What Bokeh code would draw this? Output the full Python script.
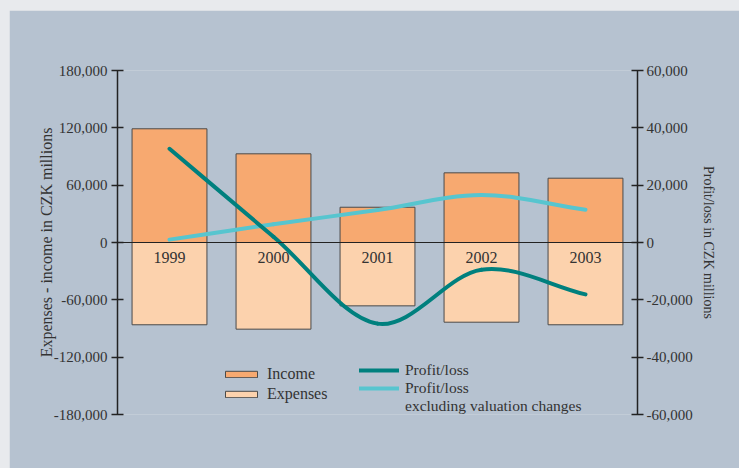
from bokeh.plotting import figure
from bokeh.models import (Range1d, LinearAxis, FixedTicker, NumeralTickFormatter,
                          Span, Legend, LegendItem, ColumnDataSource)
from bokeh.core.properties import value
from bokeh.embed import file_html
from bokeh.resources import INLINE

# ---- data ----
years = ["1999", "2000", "2001", "2002", "2003"]
income = [119000, 92800, 36900, 72900, 67300]
expenses = [-86100, -90700, -66300, -83400, -86100]
profit_loss = [32700, 2000, -28300, -9500, -18100]
profit_loss_excl = [1000, 6400, 11300, 16600, 11400]
left_ticks = [-180000, -120000, -60000, 0, 60000, 120000, 180000]
right_ticks = [-60000, -40000, -20000, 0, 20000, 40000, 60000]

FONT = "Liberation Serif"
TXT = "#333333"
PANEL = "#b6c2d0"

xs = list(range(len(years)))

p = figure(width=730, height=458, output_backend="svg", toolbar_location=None,
           x_range=Range1d(-0.5, len(years) - 0.5),
           y_range=Range1d(left_ticks[0], left_ticks[-1]),
           x_axis_location=None, y_axis_location="left",
           min_border_left=108, min_border_right=102,
           min_border_top=60, min_border_bottom=54)
p.extra_y_ranges = {"pl": Range1d(right_ticks[0], right_ticks[-1])}
p.background_fill_color = PANEL
p.border_fill_color = PANEL
p.outline_line_color = None
p.grid.visible = False


def style_axis(ax, ticks, standoff, label_standoff):
    ax.ticker = FixedTicker(ticks=ticks)
    ax.formatter = NumeralTickFormatter(format="0,0")
    ax.minor_tick_line_color = None
    ax.major_tick_in = 6
    ax.major_tick_out = 6
    ax.axis_line_width = 1.5
    ax.axis_line_color = "#222222"
    ax.major_tick_line_color = "#222222"
    ax.major_tick_line_width = 1.5
    ax.major_label_text_font = FONT
    ax.major_label_text_font_size = "15px"
    ax.major_label_text_color = TXT
    ax.major_label_standoff = standoff
    ax.axis_label_text_font = FONT
    ax.axis_label_text_font_size = "16px"
    ax.axis_label_text_font_style = "normal"
    ax.axis_label_text_color = TXT
    ax.axis_label_standoff = label_standoff


yl = p.yaxis[0]
yl.axis_label = "Expenses - income in CZK millions"
style_axis(yl, left_ticks, 4, -4)

yr = LinearAxis(y_range_name="pl")
style_axis(yr, right_ticks, 3, 0)
p.add_layout(yr, "right")

# title of the right axis (an axis that only carries the label)
yr_title = LinearAxis(y_range_name="pl", axis_label="Profit/loss in CZK millions",
                      ticker=FixedTicker(ticks=[]),
                      axis_line_color=None, major_tick_line_color=None,
                      minor_tick_line_color=None, major_tick_in=0, major_tick_out=0,
                      major_label_standoff=0, axis_label_standoff=5,
                      axis_label_text_font=FONT, axis_label_text_font_size="14px",
                      axis_label_text_font_style="normal", axis_label_text_color=TXT)
p.add_layout(yr_title, "right")

# bars
r_inc = p.vbar(x=xs, top=income, bottom=0, width=0.72,
               fill_color="#f7a970", line_color="#4a4a4a", line_width=1)
r_exp = p.vbar(x=xs, top=0, bottom=expenses, width=0.72,
               fill_color="#fcd2ad", line_color="#4a4a4a", line_width=1)

p.add_layout(Span(location=0, dimension="width", line_color="#222222", line_width=1))

# year labels just below the zero line
p.text(x=xs, y=[0] * len(years), text=years, text_align="center",
       text_baseline="top", y_offset=9, text_font=value(FONT),
       text_font_size="16px", text_color=TXT)


def smooth(ys):
    """Cardinal (Catmull-Rom) spline through the data points as Bezier segments."""
    n = len(ys)
    t = []
    for i in range(n):
        if i == 0:
            t.append(ys[1] - ys[0])
        elif i == n - 1:
            t.append(ys[-1] - ys[-2])
        else:
            t.append((ys[i + 1] - ys[i - 1]) / 2)
    return dict(
        x0=xs[:-1], y0=ys[:-1], x1=xs[1:], y1=ys[1:],
        cx0=[x + 1 / 3 for x in xs[:-1]], cy0=[ys[i] + t[i] / 3 for i in range(n - 1)],
        cx1=[x - 1 / 3 for x in xs[1:]], cy1=[ys[i + 1] - t[i + 1] / 3 for i in range(n - 1)],
    )


bz = dict(x0="x0", y0="y0", x1="x1", y1="y1", cx0="cx0", cy0="cy0", cx1="cx1", cy1="cy1")
r_pl = p.bezier(source=ColumnDataSource(smooth(profit_loss_excl)), **bz,
                line_color="#57c5cf", line_width=4, line_cap="round", y_range_name="pl")
r_pl2 = p.bezier(source=ColumnDataSource(smooth(profit_loss)), **bz,
                 line_color="#00807e", line_width=4, line_cap="round", y_range_name="pl")
# invisible renderer, only used for the legend's continuation line
r_blank = p.bezier(source=ColumnDataSource({k: [] for k in bz}), **bz,
                   line_alpha=0, y_range_name="pl")


def mk_legend(items, loc, size, spacing):
    lg = Legend(items=items, location=loc, orientation="vertical",
                padding=0, margin=0, spacing=spacing, label_height=10,
                glyph_width=40, glyph_height=8, label_standoff=6,
                label_text_font=FONT, label_text_font_size=size,
                label_text_color=TXT, border_line_color=None,
                background_fill_alpha=0)
    p.add_layout(lg, "center")
    return lg


mk_legend([LegendItem(label="Income", renderers=[r_inc]),
           LegendItem(label="Expenses", renderers=[r_exp])], (104, 11), "16px", 2)
mk_legend([LegendItem(label="Profit/loss", renderers=[r_pl2]),
           LegendItem(label="Profit/loss", renderers=[r_pl]),
           LegendItem(label="excluding valuation changes", renderers=[r_blank])],
          (242, -1), "15.5px", -1)

html = file_html(p, INLINE)
html = html.replace(
    "</head>",
    "<style>html,body{background:#e8eaed;overflow:hidden}body{padding:10px 0 0 9px}</style></head>",
    1)
open("out.html", "w").write(html)
